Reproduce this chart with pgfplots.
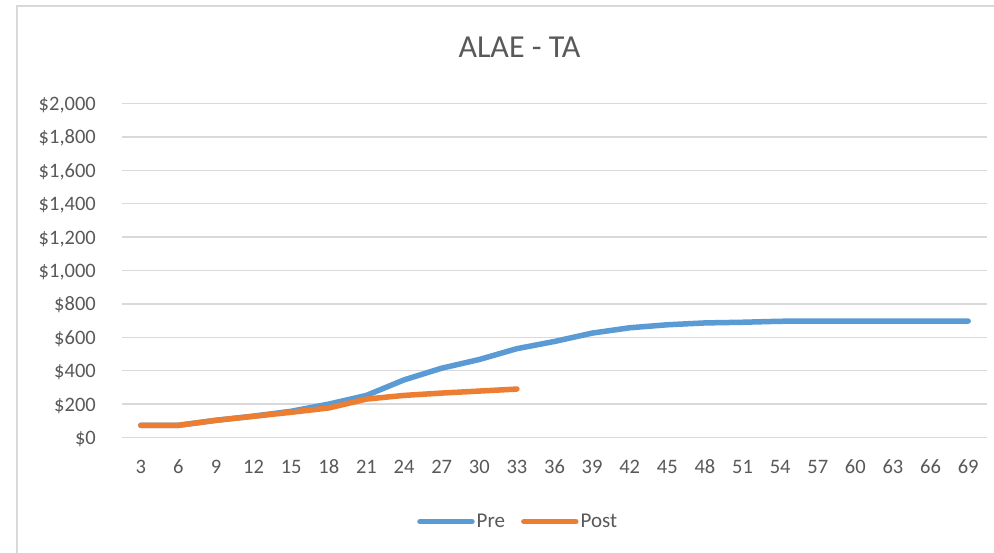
\documentclass[border=0pt]{standalone}
\usepackage{pgfplots}
\pgfplotsset{compat=1.18}
\usepackage{fontspec}
\setmainfont{Carlito}
\definecolor{preblue}{HTML}{5B9BD5}
\definecolor{postorange}{HTML}{ED7D31}
\definecolor{txtgray}{HTML}{595959}
\definecolor{gridgray}{HTML}{D9D9D9}
\begin{document}
\begin{tikzpicture}[x=1pt,y=1pt]
\useasboundingbox (0,0) rectangle (994,553);
\fill[white] (0,0) rectangle (994,553);
\draw[gridgray, line width=2pt] (16.5,0) -- (16.5,546.5) -- (994,546.5);
\node[anchor=base, font=\fontsize{32}{36}\selectfont, text=txtgray, inner sep=0pt] at (519.5,495) {ALAE - TA};
\begin{axis}[
  at={(122pt,115.5pt)}, anchor=south west,
  scale only axis, width=865pt, height=334pt,
  xmin=1.5, xmax=70.5, ymin=0, ymax=2000,
  axis line style={draw=none},
  axis x line*=bottom,
  xtick={3,6,...,69},
  ytick={0,200,...,2000},
  yticklabels={{\$0},{\$200},{\$400},{\$600},{\$800},{\$1,000},{\$1,200},{\$1,400},{\$1,600},{\$1,800},{\$2,000}},
  major tick length=0pt,
  ymajorgrids,
  grid style={gridgray, line width=1.3pt},
  /pgf/number format/assume math mode=true,
  tick label style={font=\fontsize{20.5}{24}\selectfont, text=txtgray},
  xticklabel style={anchor=base, inner sep=0pt, yshift=-36pt},
  yticklabel style={anchor=base east, inner sep=0pt, xshift=-26pt, yshift=-7pt},
  legend columns=2,
  legend style={at={(0.458,-0.252)}, anchor=center, draw=none, fill=none,
    font=\fontsize{21}{24}\selectfont, text=txtgray,
    nodes={inner sep=2pt},
    /tikz/every even column/.append style={column sep=14pt}},
  legend image code/.code={\draw[#1, line cap=round] (0pt,0pt) -- (52pt,0pt);},
  every axis plot/.append style={line width=5.5pt, line cap=round, line join=round, mark=none},
]
\addplot[preblue] coordinates {
(3,73) (6,73) (9,103) (12,128) (15,157) (18,200) (21,252) (24,345) (27,415) (30,467) (33,532) (36,575) (39,625) (42,657) (45,675) (48,686) (51,690) (54,696) (57,697) (60,697) (63,697) (66,697) (69,697)
};
\addlegendentry{Pre}
\addplot[postorange] coordinates {
(3,73) (6,73) (9,103) (12,127) (15,151) (18,177) (21,230) (24,252) (27,266) (30,278) (33,290)
};
\addlegendentry{Post}
\draw[gridgray, line width=1.3pt] (axis cs:1.5,0) -- (axis cs:70.5,0);
\end{axis}
\end{tikzpicture}
\end{document}
